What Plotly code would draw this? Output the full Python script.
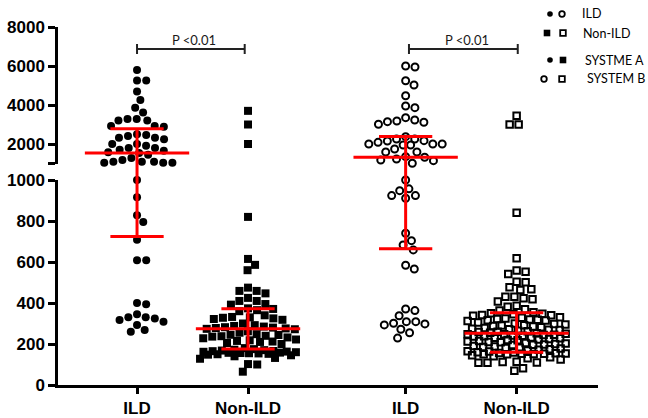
import numpy as np
import plotly.graph_objects as go

# ---------------- data ----------------
group_labels = ["ILD", "Non-ILD", "ILD", "Non-ILD"]

ild_system_a = [5795, 5250, 5250, 4690, 4250, 3860, 3620, 3280, 3200, 3200, 3280,
                2920, 2880, 2920, 2460, 2320, 2240, 2320, 2410, 2500,
                2000, 1800, 1710, 1540, 1575, 1660, 1800, 1910, 2000,
                1450, 1180, 1090, 1040, 1040, 1040, 1090, 1090, 1280,
                1000, 916, 828, 795, 708, 608, 608, 394, 400,
                345, 330, 317, 309, 324, 330, 293, 260, 268]

nonild_system_a = [3700, 3000, 2000,
                   820, 615, 586, 560, 475, 459, 447, 459,
                   425, 410, 395, 392, 410, 374, 371, 365, 360,
                   340, 332, 328, 325, 322, 318, 330,
                   300, 292, 288, 285, 282, 280, 278, 276, 274, 272,
                   262, 255, 248, 244, 240, 236, 232, 228, 245, 238,
                   222, 218, 215, 212, 210, 205, 200,
                   180, 175, 172, 170, 168, 166, 165, 163, 162, 160, 158, 157,
                   156, 155, 154, 152, 150, 148, 145, 140,
                   132, 128, 102, 100, 65]

ild_system_b = [6000, 5950, 5246, 5026, 4477, 3949, 3862,
                3231, 3146, 3010, 3113, 3180, 3350,
                2256, 2170, 2085, 1949, 2000, 1744, 2000, 2000, 1949, 2154, 2256, 2375,
                1590, 1590, 1350, 1231, 1144, 1010, 1180, 1318,
                1000, 957, 948, 924, 924, 911, 740, 704, 683, 659, 584, 566,
                371, 363, 338, 309, 298, 293, 301, 309, 272, 255, 229]

nonild_system_b = [3450, 3000, 3000,
                   840, 618, 558, 553, 542, 504, 501, 477, 467, 464,
                   431, 431, 423, 418, 407, 386, 382, 369, 363,
                   355, 350, 348, 345, 342, 340, 338,
                   330, 328, 325, 322, 320, 318, 316, 315, 312,
                   305, 300, 298, 295, 292, 290, 288, 285, 282,
                   278, 275, 272, 270, 268, 265, 262, 260, 258,
                   255, 252, 250, 248, 247, 245, 244, 242, 240, 238, 236,
                   232, 230, 228, 225, 222, 220, 218, 215,
                   212, 210, 208, 205, 203, 200, 198, 196, 195,
                   190, 188, 185, 182, 180, 178, 175, 172,
                   168, 165, 163, 160, 158, 156, 155, 154, 153, 152, 151, 150, 150,
                   145, 140, 135, 130, 125,
                   113, 110, 108, 112, 108, 82, 70]

medians = [1540, 275, 1318, 252]
lower_bars = [725, 176, 665, 160]
upper_bars = [2780, 372, 2380, 353]

lower_ticks = [0, 200, 400, 600, 800, 1000]
upper_ticks = [1000, 2000, 4000, 6000, 8000]
upper_tick_text = ["", "2000", "4000", "6000", "8000"]

p_label = "P <0.01"
legend_texts = ["ILD", "Non-ILD", "SYSTME A", "SYSTEM B"]
legend_keys = [("dot", "ring"), ("block", "box"), ("dot", "block"), ("ring", "box")]

# ---------------- geometry / styles ----------------
W, H = 648, 418
ML, MR, MT, MB = 58, 50, 27, 33
PW, PH = W - ML - MR, H - MT - MB
BREAK = 1000
TOP = 8000
lower_dom = [0.0, 205 / PH]
upper_dom = [221.5 / PH, 1.0]
positions = [0.0, 1.0, 2.42, 3.42]
x_range = [-0.712, 4.153]
x_px = PW / (x_range[1] - x_range[0])

# legend key styles: (shape type, half size px, filled)
key_styles = {
    "dot": ("circle", 2.8, True),
    "ring": ("circle", 2.8, False),
    "block": ("rect", 3.3, True),
    "box": ("rect", 2.8, False),
}
legend_rows_px = [14, 33, 60, 79]
legend_key_x_px = [(550, 562), (547, 563), (550, 563), (544, 562)]
legend_text_x_px = [580, 581, 583, 585]


def paper_y(v):
    if v <= BREAK:
        return lower_dom[0] + v / BREAK * (lower_dom[1] - lower_dom[0])
    return upper_dom[0] + (v - BREAK) / (TOP - BREAK) * (upper_dom[1] - upper_dom[0])


def swarm(values, diam, max_half):
    ys = [paper_y(v) * PH for v in values]
    order = sorted(range(len(values)), key=lambda i: -ys[i])
    placed = []
    offs = [0.0] * len(values)
    grid = np.arange(-max_half, max_half + 0.01, 0.5)
    for i in order:
        y = ys[i]
        cands = [0.0]
        for (px, py) in placed:
            dy = abs(py - y)
            if dy < diam:
                dx = np.sqrt(diam ** 2 - dy ** 2)
                cands += [px + dx, px - dx]
        cands = [c for c in cands if abs(c) <= max_half + 1e-6]
        cands.sort(key=lambda c: (round(abs(c), 3), -c))
        chosen = None
        for c in cands:
            if all((c - px) ** 2 + (y - py) ** 2 >= diam ** 2 - 1e-6 for px, py in placed):
                chosen = c
                break
        if chosen is None:
            best, best_d = 0.0, -1
            for g in grid:
                d = min((g - px) ** 2 + (y - py) ** 2 for px, py in placed)
                if d > best_d + 1e-9:
                    best, best_d = g, d
            chosen = best
        offs[i] = chosen
        placed.append((chosen, y))
    return [o / x_px for o in offs]


series = [
    (ild_system_a, "circle", 8, 0, 9.2, 40),
    (nonild_system_a, "square", 8, 0, 9.2, 48),
    (ild_system_b, "circle-open", 7, 2, 9.4, 42),
    (nonild_system_b, "square-open", 6.5, 2, 9.0, 49),
]

fig = go.Figure()
for k, (vals, sym, size, lw, diam, mh) in enumerate(series):
    offs = swarm(vals, diam, mh)
    xs = [positions[k] + o for o in offs]
    lo = [(x, v) for x, v in zip(xs, vals) if v <= BREAK]
    hi = [(x, v) for x, v in zip(xs, vals) if v > BREAK]
    for pts, ya in ((lo, "y"), (hi, "y2")):
        if not pts:
            continue
        fig.add_trace(go.Scatter(
            x=[p[0] for p in pts], y=[p[1] for p in pts], xaxis="x", yaxis=ya,
            mode="markers", cliponaxis=False, showlegend=False, hoverinfo="skip",
            marker=dict(symbol=sym, size=size, color="black",
                        line=dict(color="black", width=lw))))

RED = "#ff0000"
for k in range(4):
    for val, half in ((medians[k], 0.47), (lower_bars[k], 0.24), (upper_bars[k], 0.24)):
        ya = "y" if val <= BREAK else "y2"
        fig.add_trace(go.Scatter(
            x=[positions[k] - half, positions[k] + half], y=[val, val],
            xaxis="x", yaxis=ya, mode="lines", cliponaxis=False,
            line=dict(color=RED, width=3), showlegend=False, hoverinfo="skip"))
    fig.add_shape(type="line", xref="x", yref="paper",
                  x0=positions[k], x1=positions[k],
                  y0=paper_y(lower_bars[k]), y1=paper_y(upper_bars[k]),
                  line=dict(color=RED, width=3))

# significance brackets
bracket_y = 6870
tick_half = 260
for a, b in ((0, 1), (2, 3)):
    xa, xb = positions[a], positions[b] - 0.03
    if a == 2:
        xa, xb = positions[a] + 0.03, positions[b] + 0.01
    line = dict(color="#222222", width=2)
    fig.add_shape(type="line", xref="x", yref="y2", x0=xa, x1=xb, y0=bracket_y, y1=bracket_y, line=line)
    for xe in (xa, xb):
        fig.add_shape(type="line", xref="x", yref="y2", x0=xe, x1=xe,
                      y0=bracket_y - tick_half, y1=bracket_y + tick_half, line=line)
    fig.add_annotation(x=(xa + xb) / 2 + 0.03, y=7330, xref="x", yref="y2", text=p_label,
                       showarrow=False, yanchor="middle",
                       font=dict(family="Lato, Open Sans, sans-serif", size=13, color="#1a1a1a"))

# hand-made legend (top right): pixel-sized shapes + text
for keys, kx, py in zip(legend_keys, legend_key_x_px, legend_rows_px):
    for key, px in zip(keys, kx):
        kind, r, filled = key_styles[key]
        fig.add_shape(type=kind, xref="paper", yref="paper",
                      xsizemode="pixel", ysizemode="pixel",
                      xanchor=(px - ML) / PW, yanchor=(H - MB - py) / PH,
                      x0=-r, x1=r, y0=-r, y1=r,
                      fillcolor="black" if filled else "rgba(0,0,0,0)",
                      line=dict(color="black", width=0 if filled else 1.8))
for txt, tx, py in zip(legend_texts, legend_text_x_px, legend_rows_px):
    fig.add_annotation(x=(tx - ML) / PW, y=(H - MB - py) / PH, xref="paper", yref="paper",
                       text=txt, showarrow=False, xanchor="left", yanchor="middle",
                       font=dict(family="Lato, Open Sans, sans-serif", size=12.5, color="black"))

axis_font = dict(family="Arial, Liberation Sans, sans-serif", size=17, color="black", weight="bold")
common_axis = dict(showline=True, linecolor="black", linewidth=2.5, ticks="outside",
                   ticklen=7, tickwidth=2.5, tickcolor="black", showgrid=False,
                   zeroline=False, tickfont=axis_font, fixedrange=True)

fig.update_layout(
    width=W, height=H,
    margin=dict(l=ML, r=MR, t=MT, b=MB, autoexpand=False),
    paper_bgcolor="white", plot_bgcolor="white",
    showlegend=False,
    xaxis=dict(range=x_range, domain=[0, 1], anchor="y",
               tickmode="array", tickvals=positions, ticktext=group_labels,
               **{**common_axis, "ticklen": 6}),
    yaxis=dict(range=[0, BREAK], domain=lower_dom, anchor="x",
               tickmode="array", tickvals=lower_ticks,
               ticktext=[str(t) for t in lower_ticks], **common_axis),
    yaxis2=dict(range=[BREAK, TOP], domain=upper_dom, anchor="x",
                tickmode="array", tickvals=upper_ticks, ticktext=upper_tick_text,
                **common_axis),
)

fig.write_html("out.html", config={"displayModeBar": False},
               post_script="document.body.style.margin='0px';document.body.style.overflow='hidden';")
